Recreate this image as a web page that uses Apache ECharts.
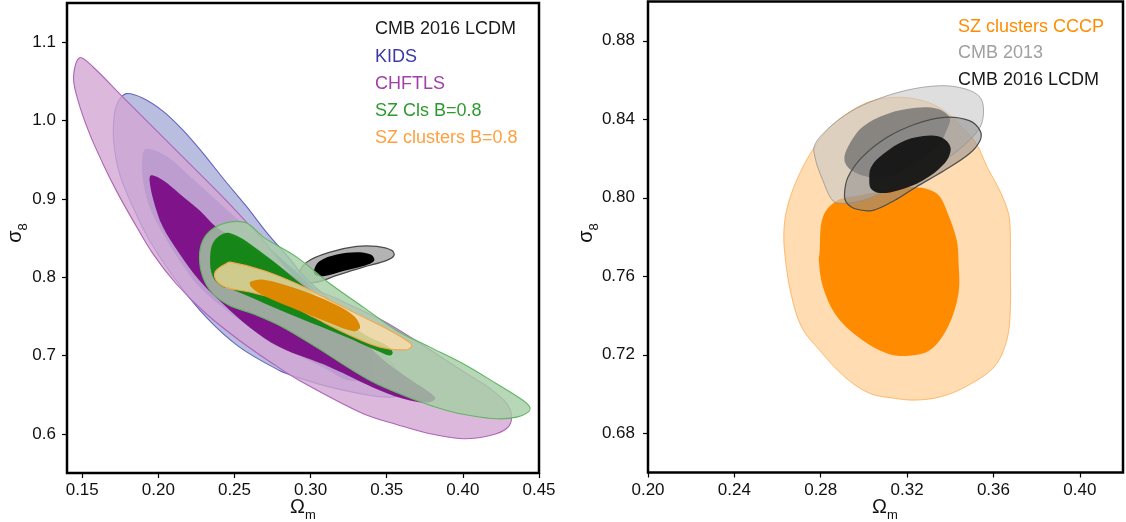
<!DOCTYPE html>
<html>
<head>
<meta charset="utf-8">
<script src="https://cdn.jsdelivr.net/npm/echarts@6/dist/echarts.min.js"></script>
<style>
  html, body { margin: 0; padding: 0; background: #fff; }
  #chart { width: 1126px; height: 522px; }
</style>
</head>
<body>
<div id="chart"></div>
<script>
// tick values
const xTicksL = [0.15, 0.20, 0.25, 0.30, 0.35, 0.40, 0.45];
const yTicksL = [0.6, 0.7, 0.8, 0.9, 1.0, 1.1];
const xTicksR = [0.20, 0.24, 0.28, 0.32, 0.36, 0.40];
const yTicksR = [0.68, 0.72, 0.76, 0.80, 0.84, 0.88];

// left panel contours [Omega_m, sigma_8]
const cmbL95 = [[0.292,0.802],[0.2975,0.8192],[0.3128,0.832],[0.3303,0.8393],[0.3434,0.8393],[0.3533,0.8342],[0.3548,0.8278],[0.350,0.8214],[0.3346,0.8128],[0.3172,0.8022],[0.304,0.7937],[0.2953,0.7937]];
const cmbL68 = [[0.3022,0.8086],[0.3058,0.8202],[0.3172,0.8288],[0.3303,0.8318],[0.3395,0.8288],[0.3418,0.8214],[0.3352,0.8145],[0.3215,0.8078],[0.3084,0.8012],[0.3030,0.8030]];
const kids95 = [[0.1789,1.0343],[0.1899,1.0285],[0.203,1.012],[0.216,0.988],[0.229,0.959],[0.243,0.925],[0.258,0.890],[0.272,0.855],[0.286,0.824],[0.296,0.800],[0.3128,0.7703],[0.3346,0.7278],[0.350,0.6979],[0.3598,0.6724],[0.362,0.6575],[0.3587,0.649],[0.350,0.6468],[0.339,0.649],[0.3128,0.6596],[0.2909,0.6724],[0.2795,0.6809],[0.2533,0.7107],[0.2314,0.749],[0.2117,0.7959],[0.1942,0.8469],[0.1833,0.8895],[0.1745,0.9321],[0.1706,0.9747],[0.1712,1.0088],[0.1735,1.0236]];
const kids68 = [[0.192,0.964],[0.205,0.955],[0.22,0.93],[0.24,0.895],[0.26,0.86],[0.28,0.825],[0.30,0.79],[0.32,0.75],[0.335,0.715],[0.342,0.69],[0.338,0.672],[0.325,0.668],[0.31,0.683],[0.28,0.712],[0.25,0.75],[0.227,0.7873],[0.2139,0.8214],[0.203,0.8555],[0.1942,0.8895],[0.1899,0.9236],[0.1894,0.9533]];
const chftls95 = [[0.1483,1.0802],[0.1571,1.0683],[0.1756,1.0321],[0.2101,0.9651],[0.2445,0.898],[0.2682,0.848],[0.2926,0.7959],[0.32,0.770],[0.3508,0.7409],[0.401,0.6787],[0.4178,0.658],[0.4287,0.6388],[0.432,0.6213],[0.4287,0.6068],[0.4178,0.5979],[0.4003,0.5937],[0.3784,0.6001],[0.3565,0.612],[0.3346,0.6256],[0.2926,0.6681],[0.2752,0.6895],[0.2533,0.7192],[0.2314,0.7533],[0.2117,0.7916],[0.1964,0.83],[0.1833,0.8725],[0.1723,0.9108],[0.1636,0.9449],[0.1548,0.9832],[0.1472,1.0257],[0.1443,1.0555]];
const chftls68 = [[0.1953,0.930],[0.203,0.9236],[0.2139,0.9066],[0.227,0.8853],[0.238,0.8639],[0.25,0.85],[0.275,0.82],[0.3036,0.7789],[0.325,0.74],[0.3458,0.6979],[0.365,0.670],[0.3817,0.6468],[0.3784,0.6404],[0.3653,0.6426],[0.3456,0.6554],[0.3128,0.6851],[0.2795,0.7107],[0.2598,0.7362],[0.2424,0.7661],[0.227,0.7959],[0.2139,0.83],[0.203,0.8639],[0.1968,0.898],[0.1942,0.9236]];
const szCls95 = [[0.2358,0.8619],[0.2467,0.8703],[0.258,0.869],[0.269,0.8511],[0.2909,0.8256],[0.3128,0.7916],[0.3346,0.7618],[0.3565,0.732],[0.3784,0.7107],[0.4002,0.6895],[0.4222,0.6639],[0.4396,0.6426],[0.444,0.634],[0.4429,0.6277],[0.4353,0.6213],[0.4222,0.6192],[0.4046,0.6234],[0.3893,0.6298],[0.3697,0.6426],[0.339,0.6681],[0.3036,0.7107],[0.2817,0.7362],[0.262,0.7533],[0.2467,0.7639],[0.2358,0.7789],[0.2292,0.8001],[0.227,0.8256],[0.2292,0.8469]];
const szCls68 = [[0.2467,0.8563],[0.269,0.83],[0.2909,0.7959],[0.3128,0.7618],[0.3346,0.7278],[0.35,0.7128],[0.3539,0.7043],[0.3521,0.6999],[0.3434,0.7064],[0.3237,0.7234],[0.2909,0.749],[0.2472,0.7853],[0.2424,0.7873],[0.2358,0.8001],[0.234,0.8256],[0.2369,0.8469]];
const szClu95 = [[0.238,0.8086],[0.2445,0.8172],[0.2472,0.8192],[0.269,0.8086],[0.2909,0.7916],[0.3128,0.7703],[0.3346,0.749],[0.3521,0.732],[0.3631,0.7192],[0.3664,0.7128],[0.3631,0.7073],[0.3456,0.7107],[0.3237,0.7278],[0.3018,0.749],[0.28,0.7703],[0.26,0.781],[0.246,0.786],[0.2401,0.7916],[0.237,0.80]];
const szClu68 = [[0.2603,0.7937],[0.269,0.7967],[0.2909,0.7853],[0.3128,0.7682],[0.3281,0.7511],[0.3325,0.7362],[0.3281,0.7311],[0.3084,0.7447],[0.2865,0.7618],[0.2668,0.7789],[0.2607,0.7882]];

// right panel contours
const cccp95 = [[0.3157,0.8512],[0.3273,0.8495],[0.3372,0.8444],[0.3455,0.8359],[0.3521,0.8275],[0.3571,0.8156],[0.3629,0.8037],[0.367,0.7919],[0.3678,0.7817],[0.3678,0.7681],[0.3678,0.7427],[0.3662,0.7275],[0.3604,0.7139],[0.3471,0.7037],[0.3356,0.6986],[0.324,0.6969],[0.3141,0.6978],[0.3025,0.7004],[0.291,0.7088],[0.2794,0.7224],[0.2711,0.7342],[0.2662,0.7512],[0.2637,0.7681],[0.2629,0.7817],[0.2645,0.7952],[0.2695,0.8105],[0.2761,0.8241],[0.2844,0.8359],[0.2943,0.8444],[0.3042,0.8495]];
const cccp68 = [[0.2876,0.7986],[0.2976,0.8012],[0.3108,0.8037],[0.324,0.8054],[0.3339,0.802],[0.3389,0.7919],[0.343,0.7783],[0.3438,0.7681],[0.3438,0.7512],[0.3389,0.7342],[0.3306,0.7224],[0.3207,0.7195],[0.3108,0.7207],[0.2992,0.7275],[0.2876,0.7393],[0.281,0.7546],[0.2791,0.7681],[0.2794,0.7715],[0.281,0.7902]];
const cmb13_95 = [[0.2769,0.8258],[0.281,0.8326],[0.291,0.8419],[0.3025,0.8486],[0.3191,0.8546],[0.3356,0.8571],[0.3471,0.8554],[0.3538,0.8512],[0.3554,0.8444],[0.3538,0.8359],[0.3471,0.8275],[0.3372,0.819],[0.324,0.8105],[0.3108,0.8037],[0.2992,0.7986],[0.2876,0.7973],[0.2844,0.8003],[0.281,0.8088],[0.2786,0.8156],[0.2777,0.819]];
const cmb13_68 = [[0.291,0.819],[0.2926,0.8258],[0.2992,0.8359],[0.3108,0.8427],[0.324,0.8458],[0.3339,0.8453],[0.3397,0.841],[0.3389,0.8359],[0.3339,0.8258],[0.3207,0.8156],[0.3108,0.8105],[0.3025,0.8105],[0.2943,0.8139]];
const cmb16_95 = [[0.291,0.802],[0.2926,0.8105],[0.2992,0.8207],[0.3108,0.8308],[0.324,0.8376],[0.3372,0.841],[0.3488,0.8393],[0.3538,0.8342],[0.3538,0.8292],[0.3488,0.8224],[0.3372,0.8139],[0.324,0.8054],[0.3141,0.7986],[0.3042,0.7936],[0.2959,0.7944],[0.2918,0.7978]];
const cmb16_68 = [[0.3025,0.8088],[0.3033,0.8156],[0.3091,0.8224],[0.3191,0.8292],[0.3306,0.8317],[0.3372,0.83],[0.3402,0.8249],[0.3372,0.8173],[0.3273,0.8088],[0.3157,0.8037],[0.3075,0.8024],[0.3033,0.8046]];

const FONT = 'Liberation Sans, Arial, sans-serif';

// one filled contour drawn as a polygon through the axes
function contour(pts, grid, fill, stroke, lw) {
  return {
    type: 'custom',
    xAxisIndex: grid,
    yAxisIndex: grid,
    data: pts,
    encode: { x: 0, y: 1 },
    clip: true,
    silent: true,
    renderItem: function (params, api) {
      if (params.dataIndex !== 0) return null;
      const points = pts.map(p => api.coord(p));
      return {
        type: 'polygon',
        shape: { points: points, smooth: 0.35 },
        style: { fill: fill, stroke: stroke || null, lineWidth: lw || 0 }
      };
    }
  };
}

function xAxisCfg(grid, min, max, ticks) {
  return {
    gridIndex: grid, type: 'value', min: min, max: max,
    axisLine: { show: false },
    splitLine: { show: false },
    axisTick: { show: true, length: 5, customValues: ticks, lineStyle: { color: '#000', width: 1.2 } },
    axisLabel: { customValues: ticks, formatter: v => v.toFixed(2), color: '#111', fontSize: 17, fontFamily: FONT, margin: 9 }
  };
}
function yAxisCfg(grid, min, max, ticks, dec, margin) {
  return {
    gridIndex: grid, type: 'value', min: min, max: max,
    axisLine: { show: false },
    splitLine: { show: false },
    axisTick: { show: true, length: 5, customValues: ticks, lineStyle: { color: '#000', width: 1.2 } },
    axisLabel: { customValues: ticks, formatter: v => v.toFixed(dec), color: '#111', fontSize: 17, fontFamily: FONT, margin: margin }
  };
}

function txt(x, y, s, color) {
  return { type: 'text', x: x, y: y, style: { text: s, fill: color, font: '18px ' + FONT, verticalAlign: 'middle' } };
}
function axName(x, y, base, sub, rot) {
  return {
    type: 'text', x: x, y: y, rotation: rot || 0,
    style: {
      text: base + '{s|' + sub + '}',
      align: 'center', verticalAlign: 'middle',
      fill: '#111', fontFamily: FONT, fontSize: 20, lineHeight: 30,
      rich: { s: { fontSize: 13, lineHeight: 19, verticalAlign: 'bottom', fill: '#111', fontFamily: FONT } }
    }
  };
}

const chart = echarts.init(document.getElementById('chart'), null, { renderer: 'canvas' });

chart.setOption({
  animation: false,
  backgroundColor: '#fff',
  grid: [
    { left: 67, top: 3, width: 472, height: 470, show: true, borderColor: '#000', borderWidth: 2.5 },
    { left: 648, top: 1.5, width: 475, height: 471, show: true, borderColor: '#000', borderWidth: 2.5 }
  ],
  xAxis: [xAxisCfg(0, 0.14, 0.45, xTicksL), xAxisCfg(1, 0.20, 0.42, xTicksR)],
  yAxis: [yAxisCfg(0, 0.55, 1.15, yTicksL, 1, 11), yAxisCfg(1, 0.66, 0.90, yTicksR, 2, 13)],
  series: [
    // left: CMB, KIDS, CHFTLS, SZ Cls, SZ clusters
    contour(cmbL95, 0, 'rgba(160,160,160,0.8)', '#4a4a4a', 1.2),
    contour(cmbL68, 0, '#000'),
    contour(kids95, 0, 'rgba(167,172,216,0.8)', '#6464c0', 1.1),
    contour(kids68, 0, 'rgba(86,106,181,0.8)'),
    contour(chftls95, 0, 'rgba(210,166,211,0.8)', '#b064b8', 1.1),
    contour(chftls68, 0, 'rgba(118,0,128,0.88)'),
    contour(szCls95, 0, 'rgba(165,206,165,0.8)', '#64b464', 1.1),
    contour(szCls68, 0, 'rgba(0,128,0,0.85)'),
    contour(szClu95, 0, 'rgba(252,220,170,0.8)', '#f5a64a', 1.1),
    contour(szClu68, 0, '#dc8800'),
    // right: CCCP, CMB 2013, CMB 2016
    contour(cccp95, 1, 'rgba(255,140,0,0.3)', 'rgba(255,150,40,0.6)', 1),
    contour(cccp68, 1, '#ff8c00'),
    contour(cmb13_95, 1, 'rgba(200,200,200,0.6)', 'rgba(140,140,140,0.7)', 1),
    contour(cmb13_68, 1, 'rgba(100,100,100,0.7)'),
    contour(cmb16_95, 1, 'rgba(140,140,140,0.55)', '#4d4d4d', 1.2),
    contour(cmb16_68, 1, 'rgba(20,20,20,0.95)')
  ],
  graphic: [
    txt(375, 29, 'CMB 2016 LCDM', '#1a1a1a'),
    txt(375, 57, 'KIDS', '#3a3aa8'),
    txt(375, 84, 'CHFTLS', '#a040a8'),
    txt(375, 111, 'SZ Cls B=0.8', '#2e9a2e'),
    txt(375, 138, 'SZ clusters B=0.8', '#ffa040'),
    txt(958, 27, 'SZ clusters CCCP', '#ff8c00'),
    txt(958, 53, 'CMB 2013', '#a0a0a0'),
    txt(958, 80, 'CMB 2016 LCDM', '#1a1a1a'),
    axName(303, 507, 'Ω', 'm'),
    axName(885, 507, 'Ω', 'm'),
    axName(15, 233, 'σ', '8', Math.PI / 2),
    axName(586, 233, 'σ', '8', Math.PI / 2)
  ]
});
</script>
</body>
</html>
